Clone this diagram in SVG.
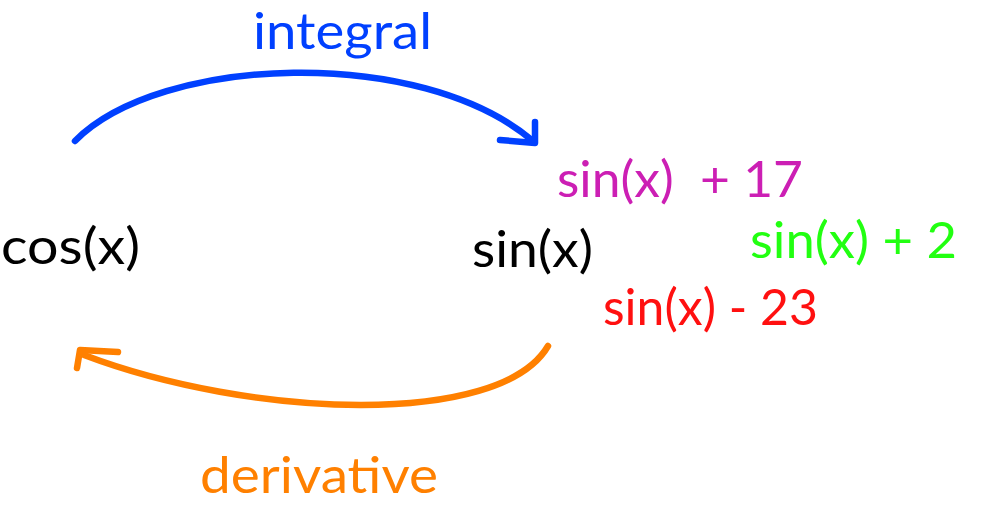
<svg xmlns="http://www.w3.org/2000/svg" width="1005" height="513" viewBox="0 0 1005 513">
<style>
text{font-family:"Comic Sans MS","Lato","Open Sans",sans-serif;font-size:50px;white-space:pre}
.arrow{fill:none;stroke-width:6.5;stroke-linecap:round;stroke-linejoin:round}
</style>
<rect width="1005" height="513" fill="#ffffff"/>
<g id="connectors">
<g id="integral-arrow">
<path class="arrow" stroke="#0040ff" d="M75,141 C160,55 420,45 533,141"/>
<path class="arrow" stroke="#0040ff" d="M500,140 L535,143 L535,122"/>
</g>
<g id="derivative-arrow">
<path class="arrow" stroke="#ff8000" d="M548,346 C500,428 250,418 84,355"/>
<path class="arrow" stroke="#ff8000" d="M118,352 L80,350 L77,368"/>
</g>
</g>
<g id="label-integral"><text x="253" y="49" fill="#0040ff" font-size="44" textLength="179" lengthAdjust="spacingAndGlyphs">integral</text></g>
<g id="label-derivative"><text x="200" y="493" fill="#ff8000" textLength="238" lengthAdjust="spacingAndGlyphs">derivative</text></g>
<g id="node-cos"><text x="1" y="264" fill="#000000" textLength="139" lengthAdjust="spacingAndGlyphs">cos(x)</text></g>
<g id="node-sin"><text x="472" y="267" fill="#000000" textLength="121" lengthAdjust="spacingAndGlyphs">sin(x)</text></g>
<g id="node-sin-plus-17"><text x="557" y="197" fill="#cc1fb4" textLength="246" lengthAdjust="spacingAndGlyphs">sin(x)  + 17</text></g>
<g id="node-sin-plus-2"><text x="750" y="258" fill="#22ff11" textLength="207" lengthAdjust="spacingAndGlyphs">sin(x) + 2</text></g>
<g id="node-sin-minus-23"><text x="603" y="325" fill="#ff1010" textLength="215" lengthAdjust="spacingAndGlyphs">sin(x) - 23</text></g>
</svg>
